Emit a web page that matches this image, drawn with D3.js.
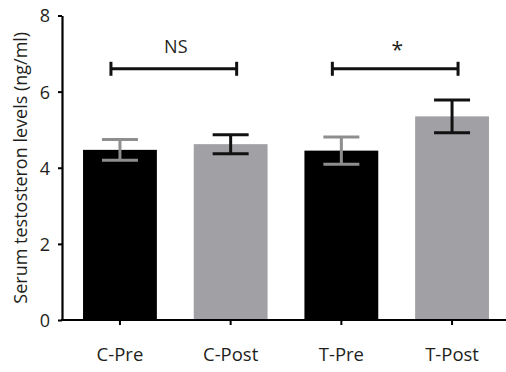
<!DOCTYPE html>
<html>
<head>
<meta charset="utf-8">
<script src="https://cdn.jsdelivr.net/npm/d3@7"></script>
<style>
  body { margin: 0; background: #fff; }
  text { font-family: "Open Sans", sans-serif; fill: #231f20; }
</style>
</head>
<body>
<div id="chart"></div>
<script>
const categories = ['C-Pre', 'C-Post', 'T-Pre', 'T-Post'];
const means = [4.47, 4.62, 4.45, 5.35];
const errors = [0.27, 0.25, 0.36, 0.43];
const yTicks = [0, 2, 4, 6, 8];
// significance brackets: [from, to, label]
const brackets = [['C-Pre', 'C-Post', 'NS'], ['T-Pre', 'T-Post', '*']];
const bracketLevel = 6.6;

const width = 506, height = 372;
const margin = { top: 15.5, left: 62, bottom: 52 };

const barFill = ['#000000', '#a1a0a5', '#000000', '#a1a0a5'];
const errColor = ['#8e8e8e', '#111111', '#8e8e8e', '#111111'];

const svg = d3.select('#chart').append('svg')
  .attr('width', width).attr('height', height);

const x = d3.scaleBand()
  .domain(categories)
  .range([margin.left, 510])
  .paddingInner(0.333)
  .paddingOuter(0.19);

const y = d3.scaleLinear()
  .domain([0, 8])
  .range([height - margin.bottom, margin.top]);

const cx = d => x(d) + x.bandwidth() / 2;

// bars
svg.selectAll('.bar')
  .data(categories)
  .join('rect')
  .attr('class', 'bar')
  .attr('x', d => x(d))
  .attr('width', x.bandwidth())
  .attr('y', (d, i) => y(means[i]))
  .attr('height', (d, i) => y(0) - y(means[i]))
  .attr('fill', (d, i) => barFill[i]);

// error bars
const capHalf = 18;
const eb = svg.selectAll('.err')
  .data(categories)
  .join('g')
  .attr('class', 'err')
  .attr('stroke', (d, i) => errColor[i])
  .attr('stroke-width', 3);
eb.append('line')
  .attr('x1', d => cx(d)).attr('x2', d => cx(d))
  .attr('y1', (d, i) => y(means[i] + errors[i]))
  .attr('y2', (d, i) => y(means[i] - errors[i]));
eb.append('line')
  .attr('x1', d => cx(d) - capHalf).attr('x2', d => cx(d) + capHalf)
  .attr('y1', (d, i) => y(means[i] + errors[i]))
  .attr('y2', (d, i) => y(means[i] + errors[i]));
eb.append('line')
  .attr('x1', d => cx(d) - capHalf).attr('x2', d => cx(d) + capHalf)
  .attr('y1', (d, i) => y(means[i] - errors[i]))
  .attr('y2', (d, i) => y(means[i] - errors[i]));

// y axis
const yAxis = svg.append('g')
  .attr('transform', `translate(${margin.left},0)`)
  .call(d3.axisLeft(y).tickValues(yTicks).tickSize(4).tickPadding(8).tickSizeOuter(0));
yAxis.select('.domain').attr('stroke', '#000').attr('stroke-width', 2.2);
yAxis.selectAll('.tick line').attr('stroke', '#000').attr('stroke-width', 2);
yAxis.selectAll('.tick text')
  .style('font-family', '"Open Sans", sans-serif')
  .style('font-size', '18px').attr('dy', '0.36em').attr('fill', '#231f20');

// x axis
const xAxis = svg.append('g')
  .attr('transform', `translate(0,${y(0)})`)
  .call(d3.axisBottom(x).tickSize(5).tickPadding(23).tickSizeOuter(0));
xAxis.select('.domain').attr('d', `M${margin.left - 1},0H${width}`)
  .attr('stroke', '#000').attr('stroke-width', 2.2);
xAxis.selectAll('.tick line').attr('stroke', '#000').attr('stroke-width', 2);
xAxis.selectAll('.tick text')
  .style('font-family', '"Open Sans", sans-serif')
  .style('font-size', '18.5px').attr('fill', '#231f20');

// y label
svg.append('text')
  .attr('transform', `translate(27,${(y(0) + y(8)) / 2}) rotate(-90)`)
  .attr('text-anchor', 'middle')
  .style('font-size', '18px')
  .text('Serum testosteron levels (ng/ml)');

// significance brackets
brackets.forEach(([a, b, label]) => {
  const x1 = cx(a) - 9, x2 = cx(b) + 6, yy = y(bracketLevel);
  const g = svg.append('g').attr('stroke', '#111').attr('stroke-width', 3);
  g.append('line').attr('x1', x1).attr('x2', x2).attr('y1', yy).attr('y2', yy);
  g.append('line').attr('x1', x1).attr('x2', x1).attr('y1', yy - 7).attr('y2', yy + 7);
  g.append('line').attr('x1', x2).attr('x2', x2).attr('y1', yy - 7).attr('y2', yy + 7);
  svg.append('text')
    .attr('x', (x1 + x2) / 2 + 2)
    .attr('y', label === '*' ? yy - 12 : yy - 16)
    .attr('text-anchor', 'middle')
    .style('font-size', label === '*' ? '21px' : '18px')
    .text(label);
});
</script>
</body>
</html>
